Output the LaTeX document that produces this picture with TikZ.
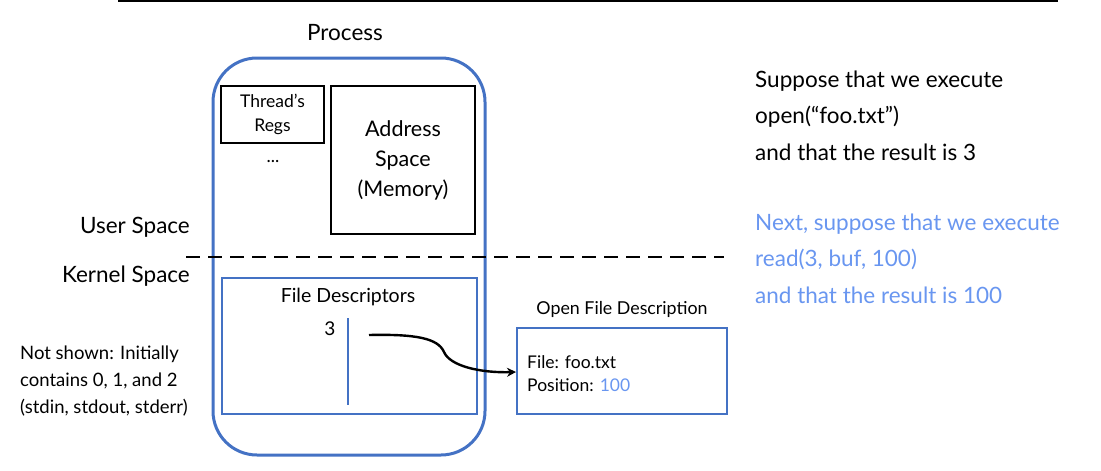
\documentclass[tikz,border=0pt]{standalone}
\usepackage{fontspec}
\setmainfont{Lato}
\usetikzlibrary{arrows.meta}
\definecolor{boxblue}{HTML}{4472C4}
\definecolor{txtblue}{RGB}{105,150,240}
\begin{document}
\begin{tikzpicture}[x=1pt,y=-1pt,
  lbl/.style={inner sep=0pt,font=\fontsize{22.5}{26}\selectfont},
  blk/.style={draw=black,line width=2pt},
  bbox/.style={draw=boxblue,line width=1.8pt},
  txt/.style={inner sep=0pt,anchor=base west,align=left,font=\fontsize{22.5}{36.5}\selectfont}]
\useasboundingbox (0,0) rectangle (1101,471);
\draw[line width=2pt] (118,1) -- (1058,1);
% process
\node[lbl] (proclbl) at (345,33) {Process};
\draw[draw=boxblue,line width=3pt,rounded corners=44pt] (213,58) rectangle (485,455);
\node[blk,minimum width=103pt,minimum height=57pt,anchor=north west,inner sep=0pt,align=center,font=\fontsize{17.5}{24}\selectfont] (regs) at (220,85) {Thread’s\\Regs};
\node[inner sep=0pt,font=\fontsize{18}{18}\selectfont] (dots) at (273,162) {...};
\node[blk,minimum width=144pt,minimum height=148pt,anchor=north west,inner sep=0pt,align=center,font=\fontsize{21.5}{30}\selectfont] (as) at (330,85) {Address\\Space\\(Memory)};
% spaces
\node[lbl,anchor=east] (us) at (190,227) {User Space};
\node[lbl,anchor=east] (ks) at (190,276) {Kernel Space};
\coordinate (dl) at (186,257);
\coordinate (dr) at (724,257);
\draw[line width=2.6pt,dash pattern=on 14pt off 8pt] (dl) -- (dr);
% file descriptors
\node[bbox,minimum width=255pt,minimum height=136pt,anchor=north west,inner sep=0pt] (fd) at (221,277) {};
\node[inner sep=0pt,font=\fontsize{19.5}{20}\selectfont] (fdlbl) at (348,297) {File Descriptors};
\node[inner sep=0pt,font=\fontsize{19}{20}\selectfont] (three) at (330,329) {3};
\coordinate (vt) at (348,318);
\coordinate (vb) at (348,405);
\draw[draw=boxblue,line width=1.4pt] (vt) -- (vb);
\coordinate (as3) at (369,335);
\coordinate (bend) at (444,352);
% open file description
\node[inner sep=0pt,font=\fontsize{17.8}{20}\selectfont] (ofdlbl) at (622,309) {Open File Description};
\node[bbox,minimum width=210pt,minimum height=86pt,anchor=north west,inner sep=0pt] (ofd) at (516,327) {};
\node[inner sep=0pt,anchor=base west,align=left,font=\fontsize{17.5}{23}\selectfont] (ofdtxt) at (527,391) {File: foo.txt\\Position: \textcolor{txtblue}{100}};
\draw[line width=2.4pt,-{Stealth[length=9pt,width=9pt]}] (as3) .. controls (415,334) and (438,338) .. (bend) .. controls (450,366) and (480,373) .. (ofd.west |- 0,372);
% note
\node[inner sep=0pt,anchor=base west,align=left,font=\fontsize{18.5}{27}\selectfont] (note) at (20,413) {Not shown: Initially\\contains 0, 1, and 2\\(stdin, stdout, stderr)};
% right text
\node[txt] (t1) at (755,160) {Suppose that we execute\\open(“foo.txt”)\\and that the result is 3};
\node[txt,text=txtblue] (t2) at (755,303) {Next, suppose that we execute\\read(3, buf, 100)\\and that the result is 100};
\end{tikzpicture}
\end{document}
